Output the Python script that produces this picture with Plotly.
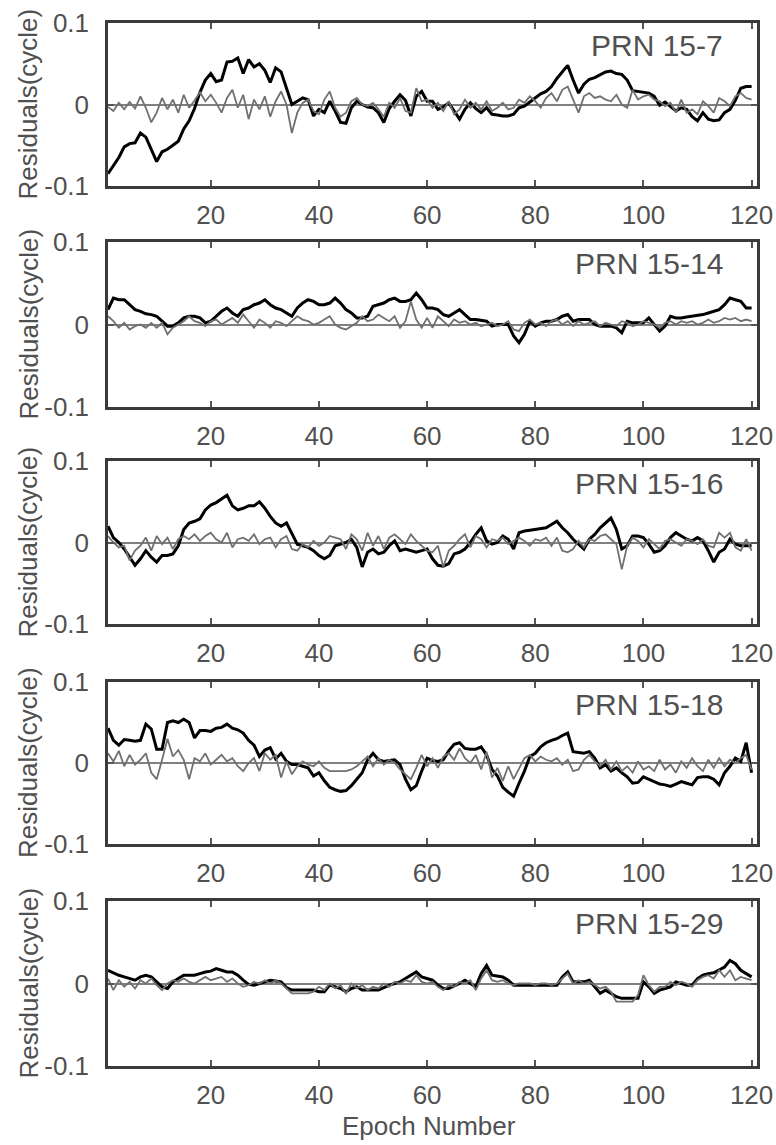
import plotly.graph_objects as go

epochs = list(range(1, 121))

panel_labels = ["PRN 15-7", "PRN 15-14", "PRN 15-16", "PRN 15-18", "PRN 15-29"]
y_tick_vals = [-0.1, 0, 0.1]
y_tick_text = ["-0.1", "0", "0.1"]
x_tick_vals = [20, 40, 60, 80, 100, 120]

p1_black = [-0.085, -0.075, -0.065, -0.052, -0.048, -0.047, -0.035, -0.040, -0.055, -0.070,
            -0.058, -0.055, -0.050, -0.045, -0.030, -0.020, -0.005, 0.015, 0.030, 0.038,
            0.028, 0.030, 0.052, 0.053, 0.057, 0.038, 0.055, 0.046, 0.050, 0.042,
            0.027, 0.045, 0.040, 0.020, 0.000, 0.004, 0.008, 0.006, -0.014, -0.006,
            -0.010, 0.004, -0.008, -0.022, -0.023, -0.004, 0.004, 0.000, -0.003, -0.004,
            -0.010, -0.022, -0.005, 0.004, 0.012, 0.005, -0.014, 0.010, 0.016, 0.004,
            0.004, -0.006, -0.003, 0.002, -0.008, -0.018, -0.006, 0.002, -0.005, -0.010,
            -0.004, -0.012, -0.013, -0.014, -0.014, -0.012, -0.004, -0.002, 0.003, 0.008,
            0.013, 0.016, 0.022, 0.032, 0.040, 0.048, 0.030, 0.014, 0.025, 0.031,
            0.033, 0.036, 0.040, 0.041, 0.038, 0.037, 0.030, 0.017, 0.016, 0.015,
            0.014, 0.010, -0.001, 0.003, -0.002, -0.008, -0.004, -0.006, -0.015, -0.020,
            -0.010, -0.018, -0.020, -0.019, -0.010, -0.006, 0.005, 0.020, 0.022, 0.022]
p1_gray = [-0.003, -0.008, 0.002, -0.006, 0.003, -0.005, 0.010, -0.004, -0.022, -0.010,
           0.008, -0.006, 0.006, -0.010, 0.012, -0.004, 0.005, 0.015, 0.004, 0.012,
           0.002, -0.010, 0.008, 0.018, -0.004, 0.012, -0.018, 0.006, -0.006, 0.010,
           -0.015, 0.004, 0.016, 0.000, -0.035, -0.010, 0.002, 0.006, -0.008, -0.012,
           0.006, 0.016, -0.004, -0.015, -0.010, 0.004, 0.008, 0.000, -0.002, 0.002,
           -0.006, -0.015, 0.002, -0.004, 0.008, -0.008, -0.010, 0.020, 0.004, 0.006,
           -0.004, 0.002, -0.008, 0.004, -0.012, -0.006, 0.006, -0.004, 0.002, -0.006,
           0.004, -0.008, -0.004, 0.002, -0.006, -0.004, 0.006, 0.002, 0.010, 0.004,
           -0.004, 0.008, 0.014, 0.004, 0.018, 0.022, 0.006, -0.010, 0.010, 0.014,
           0.008, 0.010, 0.006, 0.004, 0.012, 0.000, -0.004, 0.018, 0.006, 0.010,
           0.012, 0.006, 0.004, -0.002, 0.002, -0.010, 0.006, -0.010, -0.006, -0.012,
           0.004, -0.002, -0.010, 0.008, 0.004, -0.002, 0.010, 0.014, 0.008, 0.006]

p2_black = [0.018, 0.032, 0.030, 0.030, 0.024, 0.018, 0.016, 0.013, 0.012, 0.010,
            0.004, -0.002, -0.002, 0.002, 0.008, 0.010, 0.010, 0.008, 0.002, 0.004,
            0.010, 0.016, 0.020, 0.014, 0.010, 0.018, 0.020, 0.024, 0.026, 0.030,
            0.024, 0.020, 0.018, 0.014, 0.010, 0.020, 0.026, 0.030, 0.028, 0.024,
            0.024, 0.026, 0.032, 0.026, 0.018, 0.014, 0.008, 0.008, 0.010, 0.022,
            0.024, 0.026, 0.030, 0.032, 0.028, 0.028, 0.030, 0.038, 0.030, 0.020,
            0.020, 0.018, 0.012, 0.010, 0.014, 0.018, 0.012, 0.006, 0.006, 0.005,
            0.004, -0.002, 0.000, 0.000, 0.000, -0.014, -0.022, -0.012, 0.004, -0.002,
            0.002, 0.004, 0.004, 0.006, 0.010, 0.012, 0.004, 0.006, 0.006, 0.006,
            0.000, -0.002, -0.002, -0.002, -0.004, -0.010, 0.004, 0.002, 0.002, 0.002,
            0.008, 0.000, -0.008, -0.002, 0.010, 0.008, 0.008, 0.009, 0.010, 0.011,
            0.012, 0.014, 0.016, 0.018, 0.024, 0.032, 0.030, 0.028, 0.020, 0.020]
p2_gray = [0.010, 0.004, -0.004, 0.002, -0.006, -0.002, 0.000, -0.004, 0.002, -0.004,
           0.002, -0.012, -0.004, 0.000, 0.004, 0.010, 0.004, 0.002, -0.002, 0.004,
           0.006, 0.000, 0.004, 0.008, 0.002, 0.012, 0.004, -0.004, 0.006, 0.002,
           -0.004, 0.004, 0.002, -0.002, 0.004, 0.010, 0.006, 0.004, 0.000, 0.002,
           0.006, 0.010, 0.000, -0.004, -0.006, -0.002, 0.002, 0.010, 0.004, 0.006,
           0.012, 0.008, 0.004, 0.010, -0.004, 0.004, 0.028, 0.006, -0.004, 0.008,
           -0.004, 0.010, 0.004, -0.002, 0.006, 0.002, 0.004, 0.000, 0.002, -0.002,
           0.000, 0.002, -0.002, 0.000, 0.004, -0.006, -0.008, 0.002, 0.006, 0.000,
           0.002, -0.002, 0.004, 0.006, 0.000, 0.004, -0.002, 0.004, 0.000, 0.002,
           0.004, -0.002, 0.002, 0.000, -0.002, 0.004, 0.002, -0.002, 0.000, 0.004,
           0.002, 0.000, -0.004, 0.002, 0.004, 0.000, 0.004, 0.002, 0.004, 0.000,
           0.002, 0.006, 0.002, 0.004, 0.008, 0.006, 0.008, 0.004, 0.006, 0.004]

p3_black = [0.020, 0.006, 0.000, -0.008, -0.018, -0.028, -0.020, -0.010, -0.018, -0.024,
            -0.016, -0.016, -0.014, -0.004, 0.016, 0.024, 0.026, 0.029, 0.040, 0.046,
            0.049, 0.054, 0.058, 0.045, 0.040, 0.042, 0.045, 0.045, 0.050, 0.042,
            0.032, 0.024, 0.020, 0.024, 0.010, -0.002, -0.004, -0.006, -0.010, -0.016,
            -0.020, -0.016, -0.004, -0.002, 0.000, 0.004, -0.006, -0.030, -0.012, -0.008,
            -0.014, -0.012, -0.004, 0.002, -0.010, -0.008, -0.010, -0.012, -0.010, -0.008,
            -0.020, -0.028, -0.029, -0.026, -0.014, -0.012, -0.008, 0.000, 0.010, 0.018,
            0.002, -0.002, 0.000, 0.008, 0.004, -0.008, 0.012, 0.014, 0.015, 0.016,
            0.017, 0.018, 0.022, 0.026, 0.018, 0.012, 0.004, -0.002, -0.008, 0.004,
            0.010, 0.018, 0.024, 0.030, 0.016, -0.008, -0.004, 0.008, 0.008, 0.006,
            -0.002, -0.012, -0.010, -0.004, 0.006, 0.012, 0.008, 0.004, 0.002, 0.006,
            0.002, -0.010, -0.024, -0.012, -0.008, 0.004, -0.002, -0.004, -0.004, -0.004]
p3_gray = [0.008, 0.000, -0.006, -0.004, -0.022, -0.010, -0.004, 0.006, -0.010, 0.008,
           -0.002, 0.006, -0.008, 0.004, 0.008, 0.004, 0.010, 0.002, 0.008, 0.012,
           0.004, 0.000, 0.012, -0.006, 0.004, 0.006, 0.002, 0.010, -0.002, 0.004,
           0.006, -0.006, 0.004, 0.008, -0.008, -0.010, -0.002, -0.006, 0.002, -0.004,
           0.000, 0.008, 0.006, 0.004, -0.008, 0.010, 0.004, -0.010, 0.012, -0.004,
           0.008, -0.008, 0.006, 0.010, 0.004, -0.002, 0.010, 0.002, -0.004, -0.010,
           -0.012, -0.004, -0.030, -0.010, -0.004, 0.004, 0.010, -0.006, 0.008, 0.004,
           -0.006, 0.004, 0.002, 0.006, -0.002, 0.002, 0.006, 0.002, -0.004, 0.004,
           0.002, 0.006, -0.004, 0.006, -0.010, -0.012, -0.008, 0.002, -0.006, 0.004,
           0.002, 0.008, 0.010, 0.004, -0.002, -0.033, -0.004, 0.006, 0.002, -0.006,
           0.004, -0.002, -0.008, 0.002, 0.004, 0.000, -0.004, 0.004, 0.002, -0.002,
           0.004, -0.004, -0.006, 0.012, 0.006, 0.012, -0.006, -0.010, 0.004, -0.010]

p4_black = [0.043, 0.028, 0.022, 0.029, 0.028, 0.027, 0.028, 0.048, 0.042, 0.017,
            0.017, 0.050, 0.052, 0.050, 0.054, 0.050, 0.031, 0.040, 0.040, 0.039,
            0.043, 0.044, 0.048, 0.043, 0.041, 0.037, 0.028, 0.022, 0.008, 0.016,
            0.019, 0.005, 0.012, 0.002, -0.002, -0.002, -0.004, -0.006, -0.016, -0.012,
            -0.022, -0.030, -0.033, -0.035, -0.034, -0.028, -0.020, -0.012, 0.004, 0.012,
            0.004, 0.002, 0.003, 0.004, -0.002, -0.020, -0.033, -0.028, -0.010, 0.006,
            0.003, 0.002, 0.004, 0.015, 0.023, 0.025, 0.018, 0.017, 0.017, 0.020,
            0.010, -0.008, -0.016, -0.030, -0.036, -0.041, -0.025, -0.010, 0.008, 0.012,
            0.020, 0.025, 0.028, 0.030, 0.034, 0.037, 0.014, 0.013, 0.012, 0.014,
            0.006, -0.006, -0.002, -0.010, -0.006, -0.012, -0.017, -0.025, -0.024, -0.017,
            -0.020, -0.023, -0.026, -0.027, -0.029, -0.026, -0.023, -0.025, -0.027, -0.018,
            -0.017, -0.017, -0.020, -0.027, -0.012, -0.004, 0.006, 0.002, 0.025, -0.012]
p4_gray = [0.012, 0.002, 0.015, -0.004, 0.010, -0.002, 0.004, 0.012, -0.012, -0.020,
           0.004, 0.030, 0.008, 0.016, 0.004, -0.020, 0.006, 0.002, 0.012, -0.002,
           0.004, 0.010, 0.002, 0.006, -0.004, -0.010, 0.000, 0.006, -0.010, 0.012,
           0.004, 0.010, -0.018, 0.002, -0.014, -0.004, 0.002, -0.002, -0.004, 0.002,
           -0.006, -0.010, -0.010, -0.010, -0.010, -0.008, -0.004, 0.002, 0.008, -0.004,
           0.006, -0.002, 0.004, 0.000, -0.008, -0.014, -0.020, -0.006, 0.010, -0.004,
           0.006, -0.006, 0.008, 0.012, 0.004, 0.018, 0.006, 0.000, 0.010, -0.008,
           0.014, -0.018, -0.006, -0.022, -0.004, -0.020, -0.006, 0.006, 0.010, 0.002,
           0.008, 0.004, 0.002, 0.006, -0.002, 0.004, -0.010, -0.008, 0.004, 0.010,
           0.002, -0.004, 0.004, -0.008, 0.002, -0.010, -0.004, -0.012, 0.002, -0.008,
           -0.004, -0.010, 0.004, -0.008, -0.002, -0.012, 0.002, -0.006, 0.006, -0.004,
           -0.010, 0.004, -0.006, 0.006, -0.004, 0.004, 0.000, 0.006, 0.010, -0.008]

p5_black = [0.016, 0.013, 0.010, 0.008, 0.006, 0.004, 0.008, 0.010, 0.008, 0.002,
            -0.004, -0.006, 0.002, 0.006, 0.010, 0.010, 0.010, 0.012, 0.014, 0.015,
            0.018, 0.016, 0.014, 0.014, 0.010, 0.004, -0.001, -0.002, 0.000, 0.002,
            0.004, 0.003, 0.002, -0.005, -0.008, -0.008, -0.008, -0.008, -0.008, -0.010,
            -0.010, -0.002, -0.004, -0.006, -0.010, -0.006, -0.004, -0.008, -0.008, -0.008,
            -0.008, -0.005, -0.002, 0.000, 0.002, 0.006, 0.010, 0.014, 0.008, 0.006,
            0.004, -0.002, -0.006, -0.006, -0.003, 0.000, 0.004, 0.000, -0.004, 0.012,
            0.022, 0.010, 0.009, 0.008, 0.004, -0.002, -0.002, -0.002, -0.002, -0.002,
            -0.002, -0.002, -0.002, -0.002, 0.008, 0.014, 0.002, 0.002, 0.002, 0.004,
            -0.004, -0.012, -0.008, -0.012, -0.016, -0.018, -0.018, -0.018, -0.018, 0.002,
            -0.004, -0.012, -0.008, -0.006, -0.004, 0.002, 0.000, -0.002, -0.002, 0.006,
            0.010, 0.012, 0.013, 0.016, 0.020, 0.028, 0.024, 0.016, 0.012, 0.008]
p5_gray = [0.006, -0.008, 0.004, -0.004, 0.002, -0.006, 0.004, 0.000, 0.006, -0.002,
           -0.008, 0.000, 0.004, 0.002, 0.006, 0.002, 0.000, 0.004, 0.008, 0.004,
           0.006, 0.008, 0.002, 0.006, 0.000, -0.004, -0.002, 0.002, 0.000, 0.004,
           0.000, 0.004, 0.000, -0.006, -0.012, -0.012, -0.012, -0.012, -0.010, -0.004,
           -0.008, 0.000, -0.006, -0.002, -0.012, 0.000, -0.006, -0.002, -0.008, -0.004,
           -0.006, 0.000, -0.004, 0.002, 0.000, 0.004, 0.002, 0.010, 0.002, 0.000,
           0.002, -0.004, -0.008, -0.002, -0.004, 0.002, 0.000, 0.004, -0.008, 0.006,
           0.016, 0.004, 0.002, 0.004, 0.000, -0.002, 0.000, 0.000, 0.000, -0.002,
           0.000, 0.000, -0.002, 0.000, 0.006, 0.012, 0.000, 0.004, 0.000, 0.002,
           -0.002, -0.006, -0.004, -0.010, -0.022, -0.022, -0.022, -0.022, -0.014, 0.010,
           -0.002, -0.010, -0.004, -0.004, 0.002, -0.002, 0.002, 0.000, -0.004, 0.004,
           0.008, 0.010, 0.006, 0.016, 0.008, 0.016, 0.004, 0.008, 0.006, 0.004]

blacks = [p1_black, p2_black, p3_black, p4_black, p5_black]
grays = [p1_gray, p2_gray, p3_gray, p4_gray, p5_gray]

W, H = 776, 1145
L, R = 108, 19
panel_px = [(23, 186), (242, 407), (461, 624), (682, 844), (901, 1066)]

FONT = "Liberation Sans, Arial, sans-serif"
TXT = "#505050"

fig = go.Figure()
layout = dict(
    width=W, height=H,
    margin=dict(l=L, r=R, t=0, b=0, pad=0, autoexpand=False),
    paper_bgcolor="white", plot_bgcolor="white",
    showlegend=False,
    font=dict(family=FONT, size=26, color=TXT),
)
annotations = []
for i in range(5):
    n = i + 1
    xa = "x" if n == 1 else f"x{n}"
    ya = "y" if n == 1 else f"y{n}"
    fig.add_trace(go.Scatter(x=epochs, y=blacks[i], mode="lines",
                             line=dict(color="black", width=3),
                             xaxis=xa, yaxis=ya))
    fig.add_trace(go.Scatter(x=epochs, y=grays[i], mode="lines",
                             line=dict(color="#707070", width=1.8),
                             xaxis=xa, yaxis=ya))
    top, bot = panel_px[i]
    dom = [1 - bot / H, 1 - top / H]
    layout["xaxis" if n == 1 else f"xaxis{n}"] = dict(
        domain=[0, 1], anchor=ya, range=[1, 121], automargin=False,
        tickvals=x_tick_vals, ticks="inside", ticklen=6, tickwidth=2,
        tickcolor="#555", showline=True, linecolor="#3a3a3a", linewidth=2.5,
        mirror="ticks", showgrid=False, zeroline=False,
        tickfont=dict(size=26, color=TXT, family=FONT), ticklabelstandoff=4,
    )
    layout["yaxis" if n == 1 else f"yaxis{n}"] = dict(
        domain=dom, anchor=xa, range=[-0.1, 0.1], automargin=False,
        tickvals=y_tick_vals, ticktext=y_tick_text, ticks="inside", ticklen=6,
        tickwidth=2, tickcolor="#555", showline=True, linecolor="#3a3a3a",
        linewidth=2.5, mirror="ticks", showgrid=False,
        zeroline=True, zerolinecolor="#808080", zerolinewidth=2,
        tickfont=dict(size=26, color=TXT, family=FONT), ticklabelstandoff=11,
    )
    annotations.append(dict(
        text=panel_labels[i], xref=f"{xa} domain", yref=f"{ya} domain",
        x=0.951, y=1 - 22 / (bot - top), xanchor="right", yanchor="middle",
        showarrow=False, font=dict(size=30, color=TXT, family=FONT)))
    annotations.append(dict(
        text="Residuals(cycle)", xref="paper", yref="paper",
        x=(28 - L) / (W - L - R), y=1 - (top + bot) / 2 / H,
        xanchor="center", yanchor="middle", textangle=-90,
        showarrow=False, font=dict(size=26, color=TXT, family=FONT)))

annotations.append(dict(
    text="Epoch Number", xref="paper", yref="paper",
    x=(429 - L) / (W - L - R), y=1 - 1126 / H,
    xanchor="center", yanchor="middle", showarrow=False,
    font=dict(size=26, color=TXT, family=FONT)))
layout["annotations"] = annotations
fig.update_layout(**layout)
fig.write_html("out.html")
